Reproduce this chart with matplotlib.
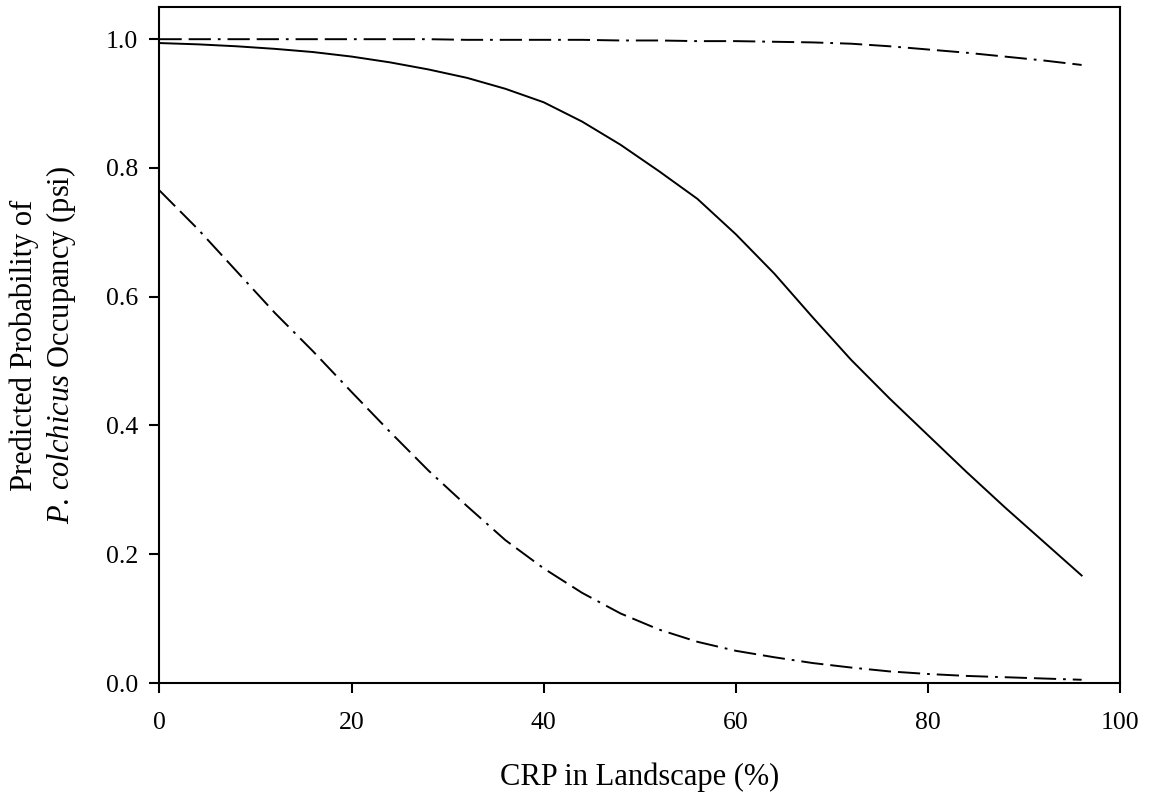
import matplotlib
matplotlib.use("Agg")
import matplotlib.pyplot as plt

plt.rcParams["font.family"] = "Liberation Serif"
plt.rcParams["mathtext.fontset"] = "custom"
plt.rcParams["mathtext.rm"] = "Liberation Serif"
plt.rcParams["mathtext.it"] = "Liberation Serif:italic"
plt.rcParams["lines.scale_dashes"] = False

# values
crp = [0, 4, 8, 12, 16, 20, 24, 28, 32, 36, 40, 44, 48, 52, 56, 60,
       64, 68, 72, 76, 80, 84, 88, 92, 96]

psi_mid = [0.994, 0.992, 0.989, 0.985, 0.980, 0.973, 0.964, 0.953, 0.940,
           0.923, 0.902, 0.872, 0.836, 0.795, 0.752, 0.697, 0.636, 0.568,
           0.502, 0.442, 0.385, 0.328, 0.273, 0.220, 0.167]

psi_low = [0.765, 0.705, 0.640, 0.575, 0.515, 0.452, 0.390, 0.330, 0.275,
           0.222, 0.178, 0.140, 0.108, 0.083, 0.064, 0.050, 0.040, 0.031,
           0.024, 0.018, 0.014, 0.011, 0.009, 0.007, 0.005]

psi_up = [1.000, 1.000, 1.000, 1.000, 1.000, 1.000, 1.000, 1.000, 0.999,
          0.999, 0.999, 0.999, 0.998, 0.998, 0.997, 0.997, 0.996, 0.995,
          0.993, 0.989, 0.984, 0.979, 0.973, 0.967, 0.960]

xticks = [0, 20, 40, 60, 80, 100]
yticks = [0.0, 0.2, 0.4, 0.6, 0.8, 1.0]

fig = plt.figure(figsize=(11.49, 8), dpi=100)
ax = fig.add_axes([0.1388, 0.14625, 0.836, 0.845])

# long dash, long dash, dot
dashdot = (0, (16, 5, 16, 5, 2, 5))
ax.plot(crp, psi_mid, color="black", lw=1.4)
ax.plot(crp, psi_low, color="black", lw=1.4, linestyle=dashdot)
ax.plot(crp, psi_up, color="black", lw=1.4, linestyle=dashdot)

ax.set_xlim(0, 100)
ax.set_ylim(0, 1.05)
ax.set_xticks(xticks)
ax.set_yticks(yticks)
ax.set_xticklabels([str(t) for t in xticks])
ax.set_yticklabels(["%.1f" % t for t in yticks])

for sp in ax.spines.values():
    sp.set_linewidth(1.5)

ax.tick_params(direction="out", length=7.2, width=1.5, labelsize=18.5,
               top=False, right=False)
ax.tick_params(axis="y", pad=8)
ax.tick_params(axis="x", pad=14)

ax.set_xlabel("CRP in Landscape (%)", fontsize=22, labelpad=20)
ax.set_ylabel("Predicted Probability of\n$P$. $colchicus$ Occupancy (psi)",
              fontsize=22, labelpad=20, linespacing=1.2)

fig.savefig("out.png", dpi=100)
